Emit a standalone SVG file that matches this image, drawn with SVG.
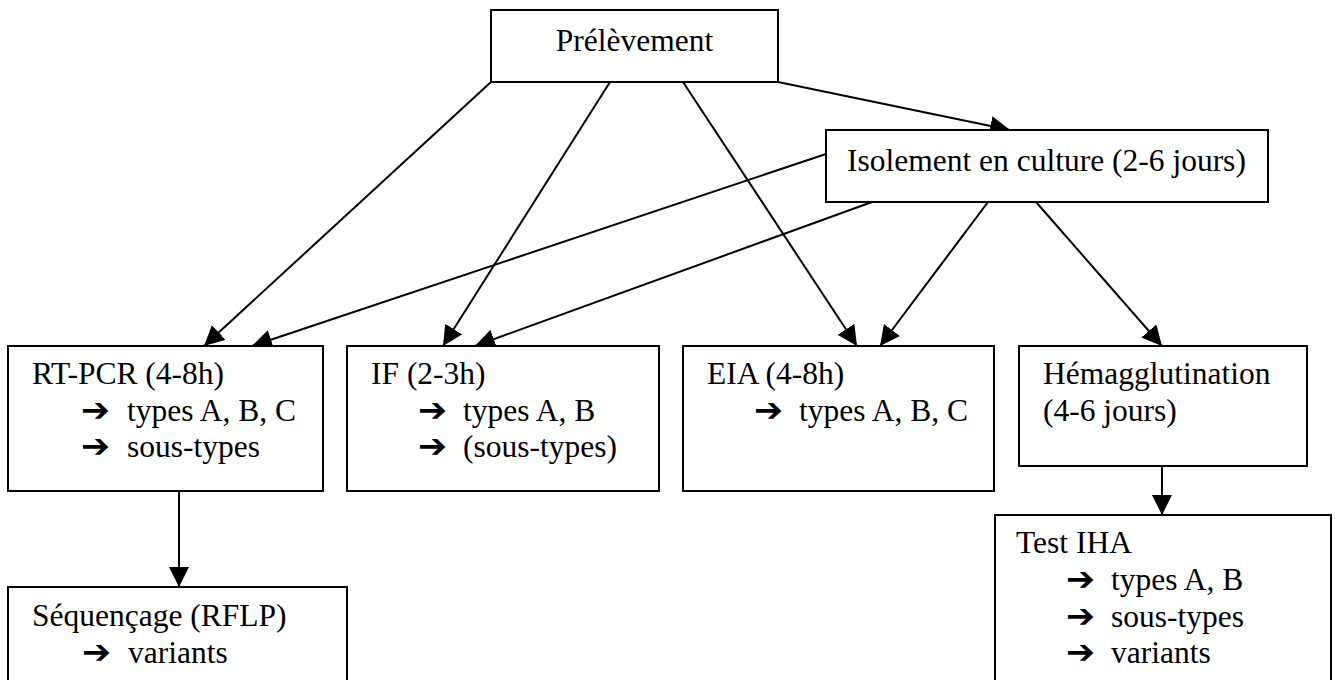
<svg xmlns="http://www.w3.org/2000/svg" width="1339" height="680" viewBox="0 0 1339 680">
<style>
.box{fill:#fff;stroke:#000;stroke-width:2}
.t{font-family:"Liberation Serif","Times New Roman",serif;font-size:31.5px;fill:#000}
.a{font-family:"DejaVu Sans",sans-serif;font-size:33px;font-weight:bold;fill:#000}
.c{stroke:#000;stroke-width:2;fill:none;marker-end:url(#ah)}
</style>
<defs>
<marker id="ah" markerUnits="userSpaceOnUse" markerWidth="20" markerHeight="20" refX="20" refY="10" orient="auto" viewBox="0 0 20 20">
<path d="M0,0 L20,10 L0,20 z" fill="#000"/>
</marker>
</defs>
<rect width="1339" height="680" fill="#fff"/>
<g id="connectors">
<line class="c" x1="491" y1="82" x2="204" y2="346"/>
<line class="c" x1="610" y1="82" x2="443" y2="346"/>
<line class="c" x1="683" y1="82" x2="857" y2="346"/>
<line class="c" x1="778" y1="82" x2="1010" y2="130"/>
<line class="c" x1="826" y1="154" x2="252" y2="346"/>
<line class="c" x1="872" y1="202" x2="475" y2="346"/>
<line class="c" x1="988" y1="202" x2="880" y2="346"/>
<line class="c" x1="1036" y1="202" x2="1162" y2="346"/>
<line class="c" x1="179" y1="491" x2="179" y2="587"/>
<line class="c" x1="1162" y1="466" x2="1162" y2="515"/>
</g>
<g id="prelevement">
<rect class="box" x="491" y="10" width="287" height="72"/>
<text class="t" x="634.5" y="51" text-anchor="middle">Prélèvement</text>
</g>
<g id="isolement">
<rect class="box" x="826" y="130" width="442" height="72"/>
<text class="t" x="847" y="171">Isolement en culture (2-6 jours)</text>
</g>
<g id="rtpcr">
<rect class="box" x="8" y="346" width="315" height="145"/>
<text class="t" x="32" y="384">RT-PCR (4-8h)</text>
<text class="a" x="81" y="421" textLength="29" lengthAdjust="spacingAndGlyphs">➔</text><text class="t" x="127" y="421">types A, B, C</text>
<text class="a" x="81" y="457" textLength="29" lengthAdjust="spacingAndGlyphs">➔</text><text class="t" x="127" y="457">sous-types</text>
</g>
<g id="if">
<rect class="box" x="347" y="346" width="312" height="145"/>
<text class="t" x="371" y="384">IF (2-3h)</text>
<text class="a" x="418" y="421" textLength="29" lengthAdjust="spacingAndGlyphs">➔</text><text class="t" x="463" y="421">types A, B</text>
<text class="a" x="418" y="457" textLength="29" lengthAdjust="spacingAndGlyphs">➔</text><text class="t" x="463" y="457">(sous-types)</text>
</g>
<g id="eia">
<rect class="box" x="683" y="346" width="311" height="145"/>
<text class="t" x="707" y="384">EIA (4-8h)</text>
<text class="a" x="754" y="421" textLength="29" lengthAdjust="spacingAndGlyphs">➔</text><text class="t" x="799" y="421">types A, B, C</text>
</g>
<g id="hemagglutination">
<rect class="box" x="1019" y="346" width="288" height="120"/>
<text class="t" x="1043" y="384">Hémagglutination</text>
<text class="t" x="1043" y="421">(4-6 jours)</text>
</g>
<g id="sequencage">
<rect class="box" x="8" y="587" width="339" height="100"/>
<text class="t" x="32" y="626">Séquençage (RFLP)</text>
<text class="a" x="82" y="663" textLength="29" lengthAdjust="spacingAndGlyphs">➔</text><text class="t" x="128" y="663">variants</text>
</g>
<g id="testiha">
<rect class="box" x="995" y="515" width="336" height="175"/>
<text class="t" x="1016" y="553">Test IHA</text>
<text class="a" x="1066" y="590" textLength="29" lengthAdjust="spacingAndGlyphs">➔</text><text class="t" x="1111" y="590">types A, B</text>
<text class="a" x="1066" y="627" textLength="29" lengthAdjust="spacingAndGlyphs">➔</text><text class="t" x="1111" y="627">sous-types</text>
<text class="a" x="1066" y="663" textLength="29" lengthAdjust="spacingAndGlyphs">➔</text><text class="t" x="1111" y="663">variants</text>
</g>
</svg>
